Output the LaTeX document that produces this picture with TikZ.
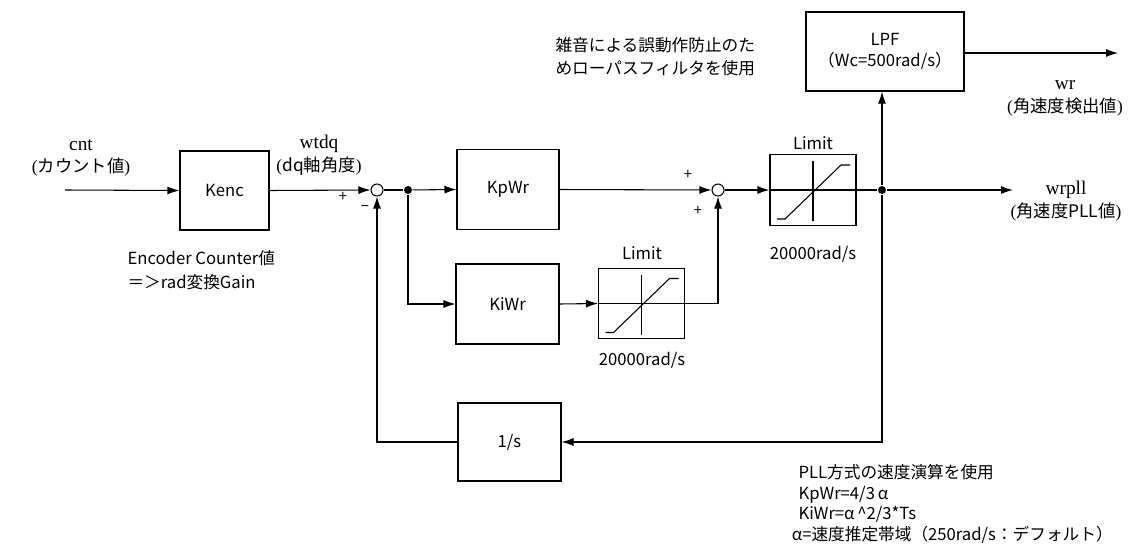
\documentclass[tikz,border=0pt]{standalone}
\usepackage{fontspec}
\setmainfont{Noto Sans CJK JP}
\newfontfamily\serf{Liberation Serif}
\usetikzlibrary{arrows.meta}
\begin{document}
\begin{tikzpicture}[x=0.75pt,y=-0.75pt, line width=0.8pt,
  >={Latex[length=9pt,width=6pt]},
  txt/.style={inner sep=0pt, font=\fontsize{12.5}{15}\selectfont},
  blk/.style={draw, fill=white, inner sep=0pt, font=\fontsize{12.5}{15}\selectfont},
  sumc/.style={circle, draw, fill=white, inner sep=0pt, minimum size=9pt},
  dot/.style={circle, fill, inner sep=0pt, minimum size=6pt},
  pm/.style={inner sep=0pt, font=\fontsize{11}{12}\selectfont},
  sig/.style={inner sep=0pt, align=center, font=\fontsize{13}{17}\selectfont},
  lim/.style={draw, fill=white, inner sep=0pt, minimum width=64.5pt, minimum height=53pt,
    path picture={
      \begin{scope}[shift={(path picture bounding box.center)}]
        \draw (-44,0) -- (44,0);
        \draw (0,-29) -- (0,31);
        \draw (-36,29) -- (-28,29) -- (28,-25) -- (37,-25);
      \end{scope}}}
]
\useasboundingbox (0,0) rectangle (1137,557);

% blocks
\coordinate (in) at (65,190);
\node[blk, minimum width=66.75pt, minimum height=59.25pt] (Kenc) at (224.5,190.5) {Kenc};
\node[sumc] (sum1) at (377,190) {};
\node[dot] (d1) at (408,190) {};
\node[blk, minimum width=76.5pt, minimum height=60pt] (KpWr) at (508,189.5) {KpWr};
\node[blk, minimum width=77.25pt, minimum height=60pt] (KiWr) at (507.5,304) {KiWr};
\node[lim] (L1) at (641.5,303.5) {};
\node[sumc] (sum2) at (718,190) {};
\node[lim] (L2) at (813,190) {};
\node[dot] (d2) at (882,190) {};
\coordinate (out2) at (1013,190);
\node[blk, minimum width=118.5pt, minimum height=59.25pt, align=center] (LPF) at (885,51.5) {LPF\\[1pt]（Wc=500rad/s）};
\coordinate (out1) at (1118,53);
\node[blk, minimum width=77.25pt, minimum height=58.5pt] (invS) at (509.5,442) {1/s};

% connectors
\draw[->] (in) -- (Kenc.west);
\draw[->] (Kenc.east) -- (sum1.west);
\draw (sum1.east) -- (d1);
\draw[->] (d1) -- (KpWr.west);
\draw[->] (d1) |- (KiWr.west);
\draw[->] (KpWr.east) -- (sum2.west);
\draw[->] (KiWr.east) -- (L1.west);
\draw[->] (L1.east) -| (sum2.south);
\draw[->] (sum2.east) -- (L2.west);
\draw (L2.east) -- (d2);
\draw[->] (d2) -- (out2);
\draw[->] (d2) -- (d2 |- LPF.south);
\draw[->] (LPF.east |- out1) -- (out1);
\draw[->] (d2) |- (invS.east);
\draw[->] (invS.west) -| (sum1.south);

% signs
\node[pm] (p1) at (343,197) {+};
\node[pm] (m1) at (365,209) {−};
\node[pm] (p2) at (688,175) {+};
\node[pm] (p3) at (698,211) {+};

% limit labels
\node[txt] (l1t) at (642,253) {Limit};
\node[txt] (l1b) at (642,360) {20000rad/s};
\node[txt] (l2t) at (813,143) {Limit};
\node[txt] (l2b) at (813,254) {20000rad/s};

% signal labels
\node[sig] (cntl) at (81,158) {{\serf\fontsize{14.5}{17}\selectfont cnt}\\{\serf(}カウント値{\serf)}};
\node[sig] (wtdql) at (319,155) {{\serf\fontsize{14.5}{17}\selectfont wtdq}\\{\serf(}dq軸角度{\serf)}};
\node[sig] (wrl) at (1065,98) {{\serf\fontsize{14.5}{18}\selectfont wr}\\{\serf(}角速度検出値{\serf)}};
\node[sig] (wrplll) at (1066,201) {{\serf\fontsize{14.5}{17}\selectfont wrpll}\\{\serf(}角速度PLL値{\serf)}};

% notes
\node[txt, anchor=west, align=left, font=\fontsize{12.5}{17}\selectfont] (note1) at (555,56.5)
  {雑音による誤動作防止のた\\めローパスフィルタを使用};
\node[txt, anchor=west, align=left, font=\fontsize{12.5}{18}\selectfont] (note2) at (127,270)
  {Encoder Counter値\\＝＞rad変換Gain};
\node[txt, anchor=west, align=left, font=\fontsize{12.5}{15.5}\selectfont] (note3) at (798,504)
  {PLL方式の速度演算を使用\\KpWr=4/3\,α\\KiWr=α\,\^{}2/3*Ts\\\hspace*{-5pt}α=速度推定帯域（250rad/s：デフォルト）};
\end{tikzpicture}
\end{document}
